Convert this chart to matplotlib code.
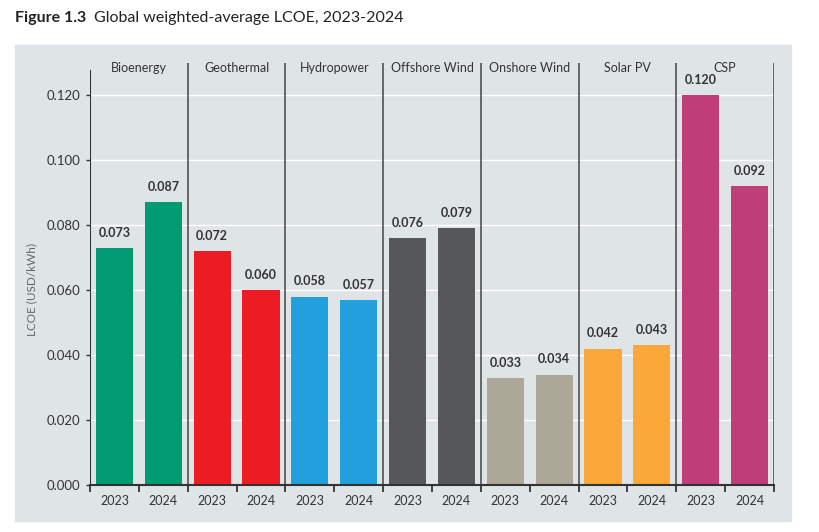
import numpy as np
import matplotlib.pyplot as plt
from matplotlib.patches import Rectangle

# 数据：技术类别、年份、LCOE值
technologies = ['Bioenergy', 'Geothermal', 'Hydropower', 'Offshore Wind',
                'Onshore Wind', 'Solar PV', 'CSP']
years = ['2023', '2024']
lcoe_2023 = [0.073, 0.072, 0.058, 0.076, 0.033, 0.042, 0.120]
lcoe_2024 = [0.087, 0.060, 0.057, 0.079, 0.034, 0.043, 0.092]
colors = ['#009B72', '#ED1C24', '#229FDD', '#55575B', '#ABA897', '#FAA83A', '#BF3E78']

plt.rcParams['font.family'] = ['Lato', 'DejaVu Sans']

fig = plt.figure(figsize=(8.2, 5.32), dpi=100)

# 背景灰色面板
fig.patches.append(Rectangle((15 / 820, 1 - 521 / 532), 776 / 820, 476 / 532,
                             transform=fig.transFigure, color='#DFE4E7', zorder=-1))

fig.text(15 / 820, 1 - 18 / 532, 'Figure 1.3', fontsize=11.5, fontweight='bold',
         color='#222222', va='center')
fig.text(94 / 820, 1 - 18 / 532, 'Global weighted-average LCOE, 2023-2024',
         fontsize=11.5, color='#222222', va='center')

ax = fig.add_axes([90 / 820, 1 - 485 / 532, 684 / 820, (485 - 62.7) / 532])
ax.set_facecolor('none')
ymax = (485 - 62.7) / 3.25 / 1000
ax.set_ylim(0, ymax)
n = len(technologies)
ax.set_xlim(0, 2 * n)

# 柱子
for i, tech in enumerate(technologies):
    for j, vals in enumerate([lcoe_2023, lcoe_2024]):
        x = 2 * i + 0.5 + j
        ax.bar(x, vals[i], width=0.76, color=colors[i], zorder=3)
        ax.text(x, vals[i] + 0.0028, f'{vals[i]:.3f}', ha='center', va='bottom',
                fontsize=9, fontweight='bold', color='#333333', zorder=4)
    ax.text(2 * i + 1, 0.1283, tech, ha='center', va='center', fontsize=9,
            color='#333333')
    # 分隔线
    ax.axvline(2 * i + 2, color='#444444', lw=1.1, zorder=2)

# 网格线
yticks = np.arange(0, 0.121, 0.02)
for yv in yticks[1:]:
    ax.axhline(yv, color='white', lw=1.0, zorder=1)

ax.set_yticks(yticks)
ax.set_yticklabels([f'{v:.3f}' for v in yticks])
ax.set_xticks(np.arange(0, 2 * n + 1, 1))
ax.set_xticklabels([])
ax.set_xticks(np.arange(0.5, 2 * n, 1), minor=True)
ax.set_xticklabels(years * n, minor=True)
ax.tick_params(axis='x', which='major', length=5, width=1.3, color='#333333', direction='out')
ax.tick_params(axis='x', which='minor', length=0, pad=7, labelsize=9, labelcolor='#333333')
ax.tick_params(axis='y', length=3, width=1, color='#333333', labelsize=9.5,
               labelcolor='#333333', pad=4)

for s in ['top', 'right', 'left']:
    ax.spines[s].set_visible(False)
ax.spines['bottom'].set_color('#333333')
ax.spines['bottom'].set_linewidth(1.5)
ax.spines['bottom'].set_zorder(5)
ax.axvline(0, ymax=0.1275 / ymax, color='#333333', lw=1.5, zorder=5)

fig.text(32 / 820, 1 - 289 / 532, 'LCOE (USD/kWh)', rotation=90, fontsize=8.5,
         color='#666666', ha='center', va='center')

fig.savefig('out.png', dpi=100)
